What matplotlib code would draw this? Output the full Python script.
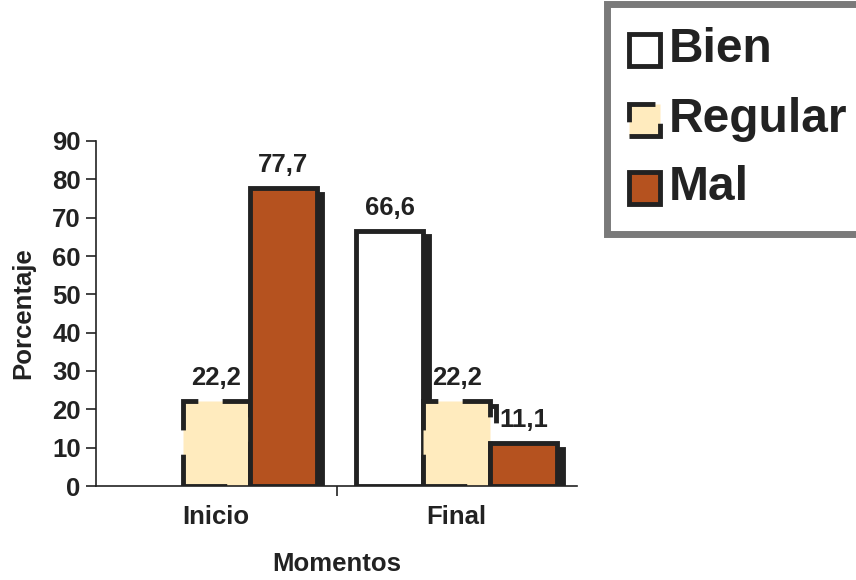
import matplotlib
matplotlib.use("Agg")
import matplotlib.pyplot as plt
import matplotlib.transforms as mtransforms
from matplotlib.patches import Rectangle
import numpy as np

plt.rcParams['font.family'] = ['Liberation Sans', 'DejaVu Sans']
plt.rcParams['font.weight'] = 'bold'

categories = ["Inicio", "Final"]
series = ["Bien", "Regular", "Mal"]
bien = [0.0, 66.6]
regular = [22.2, 22.2]
mal = [77.7, 11.1]
labels_bien = ["", "66,6"]
labels_regular = ["22,2", "22,2"]
labels_mal = ["77,7", "11,1"]
yticks = [0, 10, 20, 30, 40, 50, 60, 70, 80, 90]

colors = {"Bien": "#FFFFFF", "Regular": "#FFEBBE", "Mal": "#B5521F"}
dark = "#222222"

fig = plt.figure(figsize=(8.56, 5.8), dpi=100)
ax = fig.add_axes([96/856, 1-486/580, (577-96)/856, (486-141)/580])

x = np.arange(len(categories))
w = 0.278
data = [(bien, labels_bien, "Bien"), (regular, labels_regular, "Regular"), (mal, labels_mal, "Mal")]
shadow_tr = mtransforms.offset_copy(ax.transData, fig=fig, x=4, y=-4, units='points')
for i, (vals, labs, name) in enumerate(data):
    xs = x + (i - 1) * w
    dashed = (name == "Regular")
    ls = (0, (9, 5)) if dashed else 'solid'
    for xx, v, lab in zip(xs, vals, labs):
        if v <= 0:
            continue
        if dashed:
            sh = Rectangle((xx - w/2, 0), w, v, transform=shadow_tr, facecolor='none',
                           edgecolor=dark, lw=3.5, linestyle=ls, zorder=1)
        else:
            sh = Rectangle((xx - w/2, 0), w, v, transform=shadow_tr, facecolor=dark,
                           edgecolor=dark, lw=3.5, zorder=1)
        ax.add_patch(sh)
        sh.set_clip_path(ax.patch)
    bars = ax.bar(xs, vals, width=w, color=colors[name], edgecolor=dark, linewidth=3.5,
                  linestyle=ls, zorder=2)
    for b, v, lab in zip(bars, vals, labs):
        if v <= 0:
            b.set_linewidth(0)
        if lab:
            ax.annotate(lab, (b.get_x() + b.get_width()/2, v), xytext=(0, 8),
                        textcoords='offset points', ha='center', va='bottom',
                        fontsize=18.5, fontweight='bold', color=dark)

ax.set_xlim(-0.5, 1.5)
ax.set_ylim(0, 90)
ax.set_yticks(yticks)
ax.set_yticklabels([str(t) for t in yticks], fontsize=18.5, fontweight='bold', color=dark)
ax.set_xticks(x)
ax.set_xticklabels(categories, fontsize=18.5, fontweight='bold', color=dark)
ax.set_xticks([0.5], minor=True)
ax.tick_params(axis='x', which='major', length=0, pad=14)
ax.tick_params(axis='x', which='minor', length=7, width=1.2, color=dark)
ax.tick_params(axis='y', length=7, width=1.2, color=dark, pad=4)
for s in ['top', 'right']:
    ax.spines[s].set_visible(False)
for s in ['left', 'bottom']:
    ax.spines[s].set_color(dark)
    ax.spines[s].set_linewidth(1.2)
ax.set_xlabel("Momentos", fontsize=18.5, fontweight='bold', color=dark, labelpad=16)
ax.set_ylabel("Porcentaje", fontsize=18.5, fontweight='bold', color=dark, labelpad=12)

# Legend box
ftr = fig.transFigure
def fx(px):
    return px / 856
def fy(py):
    return 1 - py / 580
fig.patches.append(Rectangle((fx(607), fy(234)), fx(860) - fx(607), fy(4) - fy(234),
                             transform=ftr, facecolor='white', edgecolor='#7a7a7a', lw=5))
ys = [50, 120, 188]
for name, yc in zip(series, ys):
    dashed = (name == "Regular")
    fig.patches.append(Rectangle((fx(629), fy(yc + 16)), fx(660) - fx(629), fy(yc - 16) - fy(yc + 16),
                                 transform=ftr, facecolor=colors[name], edgecolor=dark, lw=3.5,
                                 linestyle=(0, (9, 5)) if dashed else 'solid'))
    fig.text(fx(669), fy(yc), name, fontsize=34.5, fontweight='bold', color=dark,
             ha='left', va='center')

fig.savefig("out.png", dpi=100)
